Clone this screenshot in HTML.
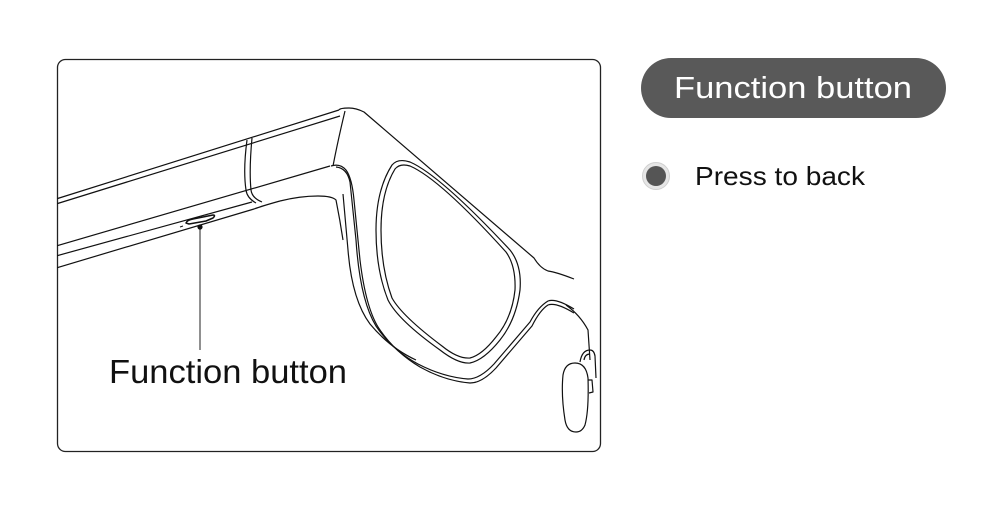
<!DOCTYPE html>
<html><head><meta charset="utf-8"><style>
html,body{margin:0;padding:0;background:#fff;width:1008px;height:512px;overflow:hidden}
</style></head><body>
<svg width="1008" height="512" viewBox="0 0 1008 512" xmlns="http://www.w3.org/2000/svg" font-family="Liberation Sans, sans-serif">
<defs><clipPath id="c"><rect x="57" y="59" width="544" height="393" rx="8"/></clipPath></defs>
<rect x="57.5" y="59.5" width="543" height="392" rx="8" fill="#fff" stroke="#222" stroke-width="1.3"/>
<g clip-path="url(#c)" fill="none" stroke="#111" stroke-width="1.2" stroke-linejoin="round">
<!-- temple -->
<path d="M56 199 L339 110"/>
<path d="M56 204 L340 116"/>
<path d="M56 246 L330 166"/>
<path d="M56 256 L252 202"/>
<path d="M56 268 L254 209 Q262 206 280 201"/>
<!-- hinge segment -->
<path d="M247 140 Q243 170 246 190 Q247 198 256 203"/>
<path d="M252 138 Q249 170 251 190 Q252 198 262 202"/>
<path d="M339 110 Q340 108 349 108 Q356 108 364 112 L534 258 Q540 268 548 271 Q556 272 574 279"/>
<path d="M345 111 Q338 140 333 166"/>
<path d="M280 201 Q300 196 318 196 Q332 196 336 200 Q340 220 343 240"/>
<!-- frame outer bottom -->
<path d="M331 166 Q340 163 346 170 Q352 178 354 200 L360 260 Q366 310 380 330 Q395 352 420 367 Q445 381 470 383 Q482 383 496 368 L532 326 Q540 310 548 305 Q556 302 574 313"/>
<path d="M336 167 Q347 168 350 182 L356 240 Q360 300 376 326 Q392 350 418 364 Q443 377 468 379 Q480 379 494 364 L530 322 Q538 307 548 301 Q556 298 574 309"/>
<path d="M343 194 L348 250 Q352 300 370 324 Q390 348 416 360"/>
<!-- lens -->
<path d="M392 165 Q398 158 410 162 Q440 175 510 250 Q522 265 520 290 Q516 320 500 340 Q484 360 470 363 Q458 364 440 350 Q398 320 388 300 Q376 270 376 230 Q376 190 392 165 Z"/>
<path d="M395 169 Q400 163 410 166 Q440 179 506 252 Q516 266 515 290 Q512 318 496 337 Q482 355 470 358 Q458 359 442 346 Q402 316 392 298 Q381 268 381 230 Q381 192 395 169 Z"/>
<!-- button -->
<path d="M186 223 Q187 220 193 219 L213 215 Q216 215 213 218 L206 221 L189 224 Z" stroke-width="1.5"/>
<path d="M183 226 L180 227" stroke-width="1"/>
<!-- nose pad -->
<path d="M575 363 Q586 363 588 378 Q589 410 585 425 Q582 432 576 432 Q567 432 565 420 Q561 395 563 375 Q565 363 575 363 Z"/>
<path d="M580 362 Q582 350 590 350 Q594 350 595 356 L596 378"/>
<path d="M584 360 Q585 354 590 354"/>
<path d="M588 380 L592 380 L593 392 L589 393"/>
<path d="M566 305 Q580 315 588 330 L590 360"/>
</g>
<line x1="200" y1="227" x2="200" y2="350" stroke="#222" stroke-width="1"/>
<circle cx="200" cy="227" r="2.6" fill="#111"/>
<text x="109" y="383" font-size="33" fill="#111" textLength="238" lengthAdjust="spacingAndGlyphs">Function button</text>
<rect x="641" y="58" width="305" height="60" rx="30" fill="#595959"/>
<text x="674" y="98" font-size="31" fill="#fff" textLength="238" lengthAdjust="spacingAndGlyphs">Function button</text>
<circle cx="656" cy="176" r="13.5" fill="#e6e6e6" stroke="#d0d0d0"/>
<circle cx="656" cy="176" r="10" fill="#555"/>
<text x="695" y="185" font-size="26" fill="#111" textLength="170" lengthAdjust="spacingAndGlyphs">Press to back</text>
</svg>
</body></html>
